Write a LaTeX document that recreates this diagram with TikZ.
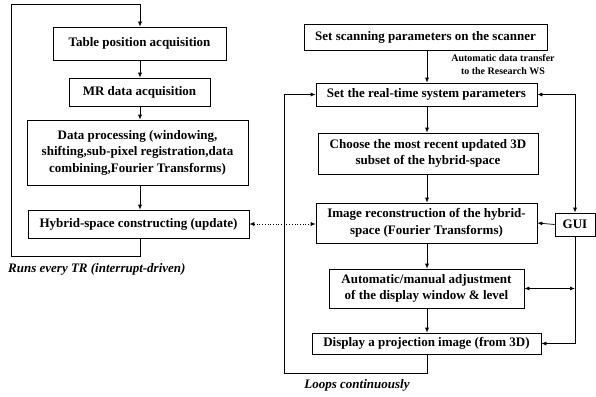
\documentclass[tikz,border=0pt]{standalone}
\usepackage{fontspec}
\setmainfont{Liberation Serif}
\usetikzlibrary{arrows.meta}
\begin{document}
\begin{tikzpicture}[x=1pt,y=-1pt,
  box/.style={draw, line width=0.7pt, align=center, font=\bfseries\fontsize{13}{16.5}\selectfont, inner sep=0pt},
  arr/.style={-{Latex[length=5pt,width=4pt]}, line width=0.7pt},
  darr/.style={{Latex[length=5pt,width=4pt]}-{Latex[length=5pt,width=4pt]}, line width=0.7pt},
  lbl/.style={font=\bfseries\itshape\fontsize{13}{16}\selectfont, inner sep=0pt}
  ]
\useasboundingbox (0,0) rectangle (596,396);
% left column
\node[box, minimum width=173pt, minimum height=33pt] (table) at (139.5,43.5) {Table position acquisition};
\node[box, minimum width=141pt, minimum height=28pt] (mr) at (139.5,92) {MR data acquisition};
\node[box, minimum width=221pt, minimum height=65pt] (dp) at (137.5,152.5) {Data processing (windowing,\\shifting,sub-pixel registration,data\\combining,Fourier Transforms)};
\node[box, minimum width=221pt, minimum height=28pt] (hyb) at (138.5,224) {Hybrid-space constructing (update)};
\node[lbl, anchor=west] (runs) at (8,269) {Runs every TR (interrupt-driven)};
% right column
\node[box, minimum width=243pt, minimum height=26pt] (scan) at (425.5,37) {Set scanning parameters on the scanner};
\node[font=\bfseries\fontsize{10}{13}\selectfont, align=center, inner sep=0pt] (auto_lbl) at (503,65) {Automatic data transfer\\to the Research WS};
\node[box, minimum width=221pt, minimum height=23pt] (rt) at (426.5,94.5) {Set the real-time system parameters};
\node[box, minimum width=220pt, minimum height=41pt] (choose) at (428,153.5) {Choose the most recent updated 3D\\subset of the hybrid-space};
\node[box, minimum width=221pt, minimum height=40pt] (img) at (426.5,223) {Image reconstruction of the hybrid-\\space (Fourier Transforms)};
\node[box, minimum width=40pt, minimum height=23pt] (gui) at (575,224.5) {GUI};
\node[box, minimum width=195pt, minimum height=39pt] (auto) at (426.5,288.5) {Automatic/manual adjustment\\of the display window \& level};
\node[box, minimum width=229pt, minimum height=21pt] (disp) at (426.5,343.5) {Display a projection image (from 3D)};
\node[lbl] (loops) at (357,385) {Loops continuously};
% coordinates
\coordinate (lx) at (140,0);
\coordinate (rx) at (427,0);
\coordinate (lt) at (11,4);
\coordinate (lb) at (11,256);
\coordinate (rb) at (284,373);
\coordinate (gr) at (575,94.5);
% left arrows
\draw[arr] (lx |- table.south) -- (lx |- mr.north);
\draw[arr] (lx |- mr.south) -- (lx |- dp.north);
\draw[arr] (lx |- dp.south) -- (lx |- hyb.north);
\draw[arr] (lx |- hyb.south) |- (lb) -- (lt) -| (lx |- table.north);
% right arrows
\draw[arr] (rx |- scan.south) -- (rx |- rt.north);
\draw[arr] (rx |- rt.south) -- (rx |- choose.north);
\draw[arr] (rx |- choose.south) -- (rx |- img.north);
\draw[arr] (rx |- img.south) -- (rx |- auto.north);
\draw[arr] (rx |- auto.south) -- (rx |- disp.north);
\draw[arr] (rx |- disp.south) |- (rb) |- (rt.west);
% GUI
\draw[darr] (rt.east) -- (gr) -- (gui.north);
\draw[arr] (gui.west) -- (img.east);
\draw[arr] (gui.south) |- (disp.east);
\draw[darr] (auto.east) -- (auto.east -| gui.south);
% dotted
\draw[darr, dotted] (hyb.east) -- (hyb.east -| img.west);
\end{tikzpicture}
\end{document}
